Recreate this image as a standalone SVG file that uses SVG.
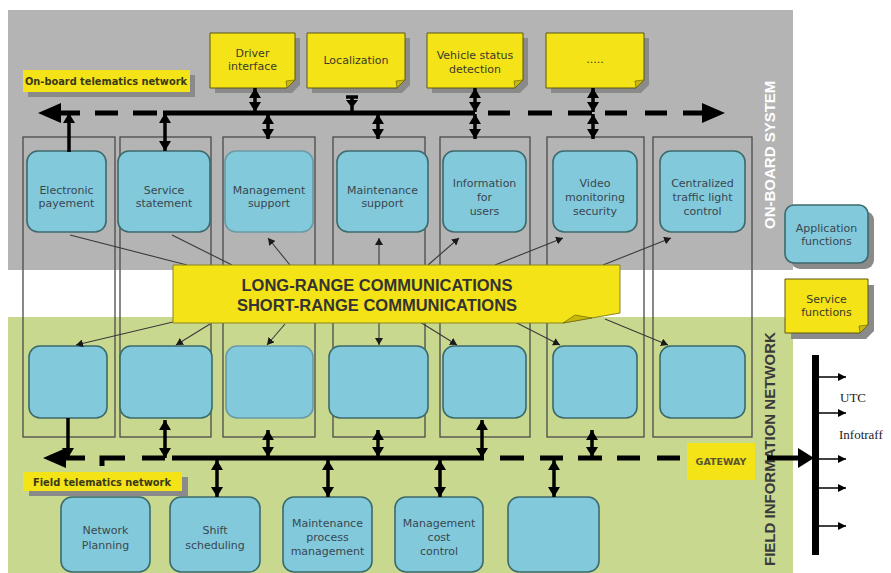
<svg xmlns="http://www.w3.org/2000/svg" width="891" height="573" viewBox="0 0 891 573">
  <style>
    .blue { fill: #82cadb; stroke: #3c6a6c; stroke-width: 1.6; }
    .col { fill: none; stroke: #4a4a4a; stroke-width: 1.3; }
    .note { fill: #f4e316; stroke: #5c5710; stroke-width: 1; }
    .fold { fill: #c9b90c; stroke: #5c5710; stroke-width: 0.6; }
    .shadow { fill: #8a8a8a; }
    .bt { font-family: "DejaVu Sans", "Liberation Sans", sans-serif; font-size: 11px; fill: #3a4650; text-anchor: middle; }
    .yt { font-family: "DejaVu Sans", "Liberation Sans", sans-serif; font-size: 11px; fill: #3a3a2a; text-anchor: middle; }
    .lbl { font-family: "DejaVu Sans", "Liberation Sans", sans-serif; font-size: 10px; font-weight: bold; fill: #3a3a1a; }
    .bus { stroke: #000; stroke-width: 5; fill: none; }
    .conn { stroke: #000; stroke-width: 3.5; fill: none; }
    .thin { stroke: #3a3a3a; stroke-width: 1.1; fill: none; }
    .head { fill: #000; }
  </style>
  <defs>
    <marker id="ah" markerUnits="userSpaceOnUse" markerWidth="12" markerHeight="12" refX="10" refY="6" orient="auto-start-reverse">
      <path d="M0,0 L10,6 L0,12 Z" fill="#000"/>
    </marker>
    <marker id="sh" markerUnits="userSpaceOnUse" markerWidth="8" markerHeight="8" refX="7" refY="4" orient="auto">
      <path d="M0,0 L7,4 L0,8 Z" fill="#1a1a1a"/>
    </marker>
    <marker id="oh" markerUnits="userSpaceOnUse" markerWidth="10" markerHeight="10" refX="8" refY="5" orient="auto">
      <path d="M0,1 L8,5 L0,9 Z" fill="#000"/>
    </marker>
  </defs>

  <!-- backgrounds -->
  <rect x="0" y="0" width="891" height="573" fill="#ffffff"/>
  <rect id="onboard-area" x="8" y="10" width="785" height="260" fill="#b4b4b4"/>
  <rect id="field-area" x="8" y="317" width="785" height="256" fill="#c9d88f"/>

  <!-- area titles -->
  <text x="0" y="0" transform="translate(775,229) rotate(-90)" font-family="'Liberation Sans', Arial, sans-serif" font-size="15" font-weight="bold" fill="#ffffff">ON-BOARD SYSTEM</text>
  <text x="0" y="0" transform="translate(775,566) rotate(-90)" font-family="'Liberation Sans', Arial, sans-serif" font-size="15" font-weight="bold" fill="#3a3a3a">FIELD INFORMATION NETWORK</text>

  <!-- function columns -->
  <g id="columns">
    <rect class="col" x="23" y="137" width="92" height="300"/>
    <rect class="col" x="120" y="137" width="91" height="300"/>
    <rect class="col" x="223" y="137" width="92" height="300"/>
    <rect class="col" x="333" y="137" width="92" height="300"/>
    <rect class="col" x="440" y="137" width="90" height="300"/>
    <rect class="col" x="547" y="137" width="97" height="300"/>
    <rect class="col" x="653" y="137" width="99" height="300"/>
  </g>

  <!-- network labels -->
  <g id="onboard-net-label">
    <rect class="shadow" x="28" y="75" width="167" height="22"/>
    <rect x="23" y="70" width="167" height="22" fill="#f4e316"/>
    <text class="lbl" x="25" y="85" textLength="162" lengthAdjust="spacingAndGlyphs">On-board telematics network</text>
  </g>
  <g id="field-net-label">
    <rect class="shadow" x="29" y="477" width="159" height="19"/>
    <rect x="23" y="472" width="159" height="19" fill="#f4e316"/>
    <text class="lbl" x="33" y="486" textLength="138" lengthAdjust="spacingAndGlyphs">Field telematics network</text>
  </g>

  <!-- on-board equipment -->
  <g id="driver-interface">
    <path class="shadow" d="M215,38 H300 V85 L292,93 H215 Z"/>
    <path class="note" d="M210,33 H295 V80 L287,88 H210 Z"/>
    <path class="fold" d="M287,88 L295,80 L286,81 Z"/>
    <text class="yt" x="252.5" y="57">Driver</text>
    <text class="yt" x="252.5" y="70">interface</text>
  </g>
  <g id="localization">
    <path class="shadow" d="M312,38 H410 V85 L402,93 H312 Z"/>
    <path class="note" d="M307,33 H405 V80 L397,88 H307 Z"/>
    <path class="fold" d="M397,88 L405,80 L396,81 Z"/>
    <text class="yt" x="356" y="64">Localization</text>
  </g>
  <g id="vehicle-status">
    <path class="shadow" d="M432,38 H528 V85 L520,93 H432 Z"/>
    <path class="note" d="M427,33 H523 V80 L515,88 H427 Z"/>
    <path class="fold" d="M515,88 L523,80 L514,81 Z"/>
    <text class="yt" x="475" y="59">Vehicle status</text>
    <text class="yt" x="475" y="73">detection</text>
  </g>
  <g id="other-equipment">
    <path class="shadow" d="M551,38 H649 V85 L641,93 H551 Z"/>
    <path class="note" d="M546,33 H644 V80 L636,88 H546 Z"/>
    <path class="fold" d="M636,88 L644,80 L635,81 Z"/>
    <text class="yt" x="595" y="63">.....</text>
  </g>

  <!-- on-board applications -->
  <g id="electronic-payement">
    <rect class="blue" x="27" y="151" width="79" height="81" rx="11"/>
    <text class="bt" x="66.5" y="194">Electronic</text>
    <text class="bt" x="66.5" y="207">payement</text>
  </g>
  <g id="service-statement">
    <rect class="blue" x="118" y="151" width="92" height="81" rx="11"/>
    <text class="bt" x="164" y="194">Service</text>
    <text class="bt" x="164" y="207">statement</text>
  </g>
  <g id="management-support">
    <rect class="blue" x="225" y="151" width="88" height="81" rx="11" style="stroke:#6a9aa4"/>
    <text class="bt" x="269" y="194">Management</text>
    <text class="bt" x="269" y="207">support</text>
  </g>
  <g id="maintenance-support">
    <rect class="blue" x="337" y="151" width="91" height="81" rx="11"/>
    <text class="bt" x="382.5" y="194">Maintenance</text>
    <text class="bt" x="382.5" y="207">support</text>
  </g>
  <g id="information-users">
    <rect class="blue" x="443" y="151" width="83" height="81" rx="11"/>
    <text class="bt" x="484.5" y="187">Information</text>
    <text class="bt" x="484.5" y="201">for</text>
    <text class="bt" x="484.5" y="215">users</text>
  </g>
  <g id="video-monitoring">
    <rect class="blue" x="553" y="151" width="84" height="81" rx="11"/>
    <text class="bt" x="595" y="187">Video</text>
    <text class="bt" x="595" y="201">monitoring</text>
    <text class="bt" x="595" y="215">security</text>
  </g>
  <g id="traffic-light-control">
    <rect class="blue" x="660" y="151" width="85" height="81" rx="11"/>
    <text class="bt" x="702.5" y="187">Centralized</text>
    <text class="bt" x="702.5" y="201">traffic light</text>
    <text class="bt" x="702.5" y="215">control</text>
  </g>

  <!-- field counterparts -->
  <g id="field-1"><rect class="blue" x="29" y="346" width="78" height="72" rx="11"/></g>
  <g id="field-2"><rect class="blue" x="120" y="346" width="92" height="72" rx="11"/></g>
  <g id="field-3"><rect class="blue" x="226" y="346" width="87" height="72" rx="11" style="stroke:#6a9aa4"/></g>
  <g id="field-4"><rect class="blue" x="329" y="346" width="99" height="72" rx="11"/></g>
  <g id="field-5"><rect class="blue" x="443" y="346" width="83" height="72" rx="11"/></g>
  <g id="field-6"><rect class="blue" x="553" y="346" width="84" height="72" rx="11"/></g>
  <g id="field-7"><rect class="blue" x="660" y="346" width="85" height="72" rx="11"/></g>

  <!-- field centre applications -->
  <g id="network-planning">
    <rect class="blue" x="61" y="497" width="89" height="75" rx="11"/>
    <text class="bt" x="105.5" y="534">Network</text>
    <text class="bt" x="105.5" y="549">Planning</text>
  </g>
  <g id="shift-scheduling">
    <rect class="blue" x="170" y="497" width="90" height="75" rx="11"/>
    <text class="bt" x="215" y="534">Shift</text>
    <text class="bt" x="215" y="549">scheduling</text>
  </g>
  <g id="maintenance-process">
    <rect class="blue" x="283" y="497" width="89" height="75" rx="11"/>
    <text class="bt" x="327.5" y="527">Maintenance</text>
    <text class="bt" x="327.5" y="541">process</text>
    <text class="bt" x="327.5" y="555">management</text>
  </g>
  <g id="management-cost">
    <rect class="blue" x="395" y="497" width="88" height="75" rx="11"/>
    <text class="bt" x="439" y="527">Management</text>
    <text class="bt" x="439" y="541">cost</text>
    <text class="bt" x="439" y="555">control</text>
  </g>
  <g id="field-centre-other">
    <rect class="blue" x="508" y="497" width="91" height="75" rx="11"/>
  </g>

  <!-- legend -->
  <g id="application-functions">
    <rect class="shadow" x="791" y="211" width="83" height="58" rx="9"/>
    <rect class="blue" x="785" y="205" width="83" height="58" rx="9"/>
    <text class="bt" x="826.5" y="232">Application</text>
    <text class="bt" x="826.5" y="245">functions</text>
  </g>
  <g id="service-functions">
    <path class="shadow" d="M791,285 H874 V331 L866,339 H791 Z"/>
    <path class="note" d="M785,279 H868 V325 L860,333 H785 Z"/>
    <path class="fold" d="M860,333 L868,325 L859,326 Z"/>
    <text class="yt" x="826.5" y="303">Service</text>
    <text class="yt" x="826.5" y="316">functions</text>
  </g>

  <g id="connectors">
    <!-- thin links from the communications box -->
    <line class="thin" x1="70" y1="235" x2="187" y2="265"/>
    <line class="thin" x1="172" y1="235" x2="232" y2="265"/>
    <line class="thin" x1="290" y1="265" x2="268" y2="238" marker-end="url(#sh)"/>
    <line class="thin" x1="379" y1="265" x2="379" y2="238" marker-end="url(#sh)"/>
    <line class="thin" x1="428" y1="265" x2="459" y2="238" marker-end="url(#sh)"/>
    <line class="thin" x1="495" y1="265" x2="563" y2="238" marker-end="url(#sh)"/>
    <line class="thin" x1="603" y1="265" x2="671" y2="238" marker-end="url(#sh)"/>

    <line class="thin" x1="173" y1="322" x2="76" y2="345" marker-end="url(#sh)"/>
    <line class="thin" x1="210" y1="324" x2="176" y2="345" marker-end="url(#sh)"/>
    <line class="thin" x1="285" y1="324" x2="267" y2="345" marker-end="url(#sh)"/>
    <line class="thin" x1="379" y1="323" x2="379" y2="345" marker-end="url(#sh)"/>
    <line class="thin" x1="420" y1="322" x2="457" y2="345" marker-end="url(#sh)"/>
    <line class="thin" x1="515" y1="322" x2="560" y2="345" marker-end="url(#sh)"/>
    <line class="thin" x1="605" y1="319" x2="668" y2="345" marker-end="url(#sh)"/>

    <!-- on-board telematics bus -->
    <polygon class="head" points="38,113 61,103 61,123"/>
    <line class="bus" x1="60" y1="113" x2="80" y2="113"/>
    <line class="bus" x1="95" y1="113" x2="118" y2="113"/>
    <line class="bus" x1="133" y1="113" x2="157" y2="113"/>
    <line class="bus" x1="163" y1="113" x2="475" y2="113"/>
    <line class="bus" x1="488" y1="113" x2="510" y2="113"/>
    <line class="bus" x1="528" y1="113" x2="552" y2="113"/>
    <line class="bus" x1="568" y1="113" x2="592" y2="113"/>
    <line class="bus" x1="605" y1="113" x2="627" y2="113"/>
    <line class="bus" x1="645" y1="113" x2="667" y2="113"/>
    <line class="bus" x1="683" y1="113" x2="704" y2="113"/>
    <polygon class="head" points="725,113 702,103 702,123"/>

    <!-- links to the on-board bus -->
    <line class="conn" x1="69" y1="152" x2="69" y2="113" marker-end="url(#ah)"/>
    <line class="conn" x1="165" y1="113" x2="165" y2="151" marker-start="url(#ah)" marker-end="url(#ah)"/>
    <line class="conn" x1="255" y1="88" x2="255" y2="112" marker-start="url(#ah)" marker-end="url(#ah)"/>
    <line class="conn" x1="352" y1="97" x2="352" y2="113"/>
    <line class="conn" x1="346" y1="97" x2="358" y2="97"/>
    <polygon class="head" points="346,100 358,100 352,108"/>
    <line class="conn" x1="268" y1="114" x2="268" y2="139" marker-start="url(#ah)" marker-end="url(#ah)"/>
    <line class="conn" x1="378" y1="114" x2="378" y2="139" marker-start="url(#ah)" marker-end="url(#ah)"/>
    <line class="conn" x1="475" y1="88" x2="475" y2="112" marker-start="url(#ah)" marker-end="url(#ah)"/>
    <line class="conn" x1="475" y1="114" x2="475" y2="139" marker-start="url(#ah)" marker-end="url(#ah)"/>
    <line class="conn" x1="593" y1="88" x2="593" y2="112" marker-start="url(#ah)" marker-end="url(#ah)"/>
    <line class="conn" x1="593" y1="114" x2="593" y2="139" marker-start="url(#ah)" marker-end="url(#ah)"/>

    <!-- field telematics bus -->
    <polygon class="head" points="43,458 66,448 66,468"/>
    <line class="bus" x1="65" y1="458" x2="85" y2="458"/>
    <path class="bus" d="M102,466 V458 H125"/>
    <line class="bus" x1="142" y1="458" x2="165" y2="458"/>
    <line class="bus" x1="172" y1="458" x2="484" y2="458"/>
    <line class="bus" x1="500" y1="458" x2="524" y2="458"/>
    <line class="bus" x1="540" y1="458" x2="563" y2="458"/>
    <line class="bus" x1="578" y1="458" x2="602" y2="458"/>
    <line class="bus" x1="617" y1="458" x2="640" y2="458"/>
    <line class="bus" x1="657" y1="458" x2="680" y2="458"/>
    <line class="bus" x1="767" y1="458" x2="799" y2="458"/>
    <polygon class="head" points="814,458 798,448 798,468"/>

    <!-- links to the field bus -->
    <line class="conn" x1="68" y1="418" x2="68" y2="458" marker-end="url(#ah)"/>
    <line class="conn" x1="165" y1="420" x2="165" y2="458" marker-start="url(#ah)" marker-end="url(#ah)"/>
    <line class="conn" x1="268" y1="430" x2="268" y2="457" marker-start="url(#ah)" marker-end="url(#ah)"/>
    <line class="conn" x1="378" y1="430" x2="378" y2="457" marker-start="url(#ah)" marker-end="url(#ah)"/>
    <line class="conn" x1="482" y1="420" x2="482" y2="458" marker-start="url(#ah)" marker-end="url(#ah)"/>
    <line class="conn" x1="592" y1="430" x2="592" y2="457" marker-start="url(#ah)" marker-end="url(#ah)"/>
    <line class="conn" x1="217" y1="460" x2="217" y2="497" marker-start="url(#ah)" marker-end="url(#ah)"/>
    <line class="conn" x1="328" y1="460" x2="328" y2="497" marker-start="url(#ah)" marker-end="url(#ah)"/>
    <line class="conn" x1="440" y1="460" x2="440" y2="497" marker-start="url(#ah)" marker-end="url(#ah)"/>
    <line class="conn" x1="554" y1="460" x2="554" y2="497" marker-start="url(#ah)" marker-end="url(#ah)"/>

    <!-- external systems bus -->
    <rect x="812" y="355" width="7" height="200" fill="#000"/>
    <line x1="818" y1="377" x2="846" y2="377" stroke="#000" stroke-width="1.5" marker-end="url(#oh)"/>
    <line x1="818" y1="413" x2="846" y2="413" stroke="#000" stroke-width="1.5" marker-end="url(#oh)"/>
    <line x1="818" y1="459" x2="846" y2="459" stroke="#000" stroke-width="1.5" marker-end="url(#oh)"/>
    <line x1="818" y1="488" x2="846" y2="488" stroke="#000" stroke-width="1.5" marker-end="url(#oh)"/>
    <line x1="818" y1="526" x2="846" y2="526" stroke="#000" stroke-width="1.5" marker-end="url(#oh)"/>
  </g>

  <g id="gateway">
    <rect x="687" y="443" width="68" height="37" fill="#f4e316"/>
    <text x="721" y="465" font-family="'DejaVu Sans', sans-serif" font-size="9.5" font-weight="bold" fill="#5a5530" text-anchor="middle">GATEWAY</text>
  </g>

  <g id="communications">
    <path class="note" d="M173,265 H620 V313 L563,323 H173 Z" style="stroke:#8a8420"/>
    <path class="fold" d="M563,323 L592,318 L575,315 Z"/>
    <text x="377" y="291" font-family="'Liberation Sans', Arial, sans-serif" font-size="16.5" font-weight="bold" fill="#333" text-anchor="middle">LONG-RANGE COMMUNICATIONS</text>
    <text x="377" y="311" font-family="'Liberation Sans', Arial, sans-serif" font-size="16.5" font-weight="bold" fill="#333" text-anchor="middle">SHORT-RANGE COMMUNICATIONS</text>
  </g>

  <g id="external-labels">
    <text x="840" y="402" font-family="'Liberation Serif', 'Times New Roman', serif" font-size="13" fill="#222">UTC</text>
    <text x="839" y="439" font-family="'Liberation Serif', 'Times New Roman', serif" font-size="13" fill="#222">Infotraff</text>
  </g>
</svg>
